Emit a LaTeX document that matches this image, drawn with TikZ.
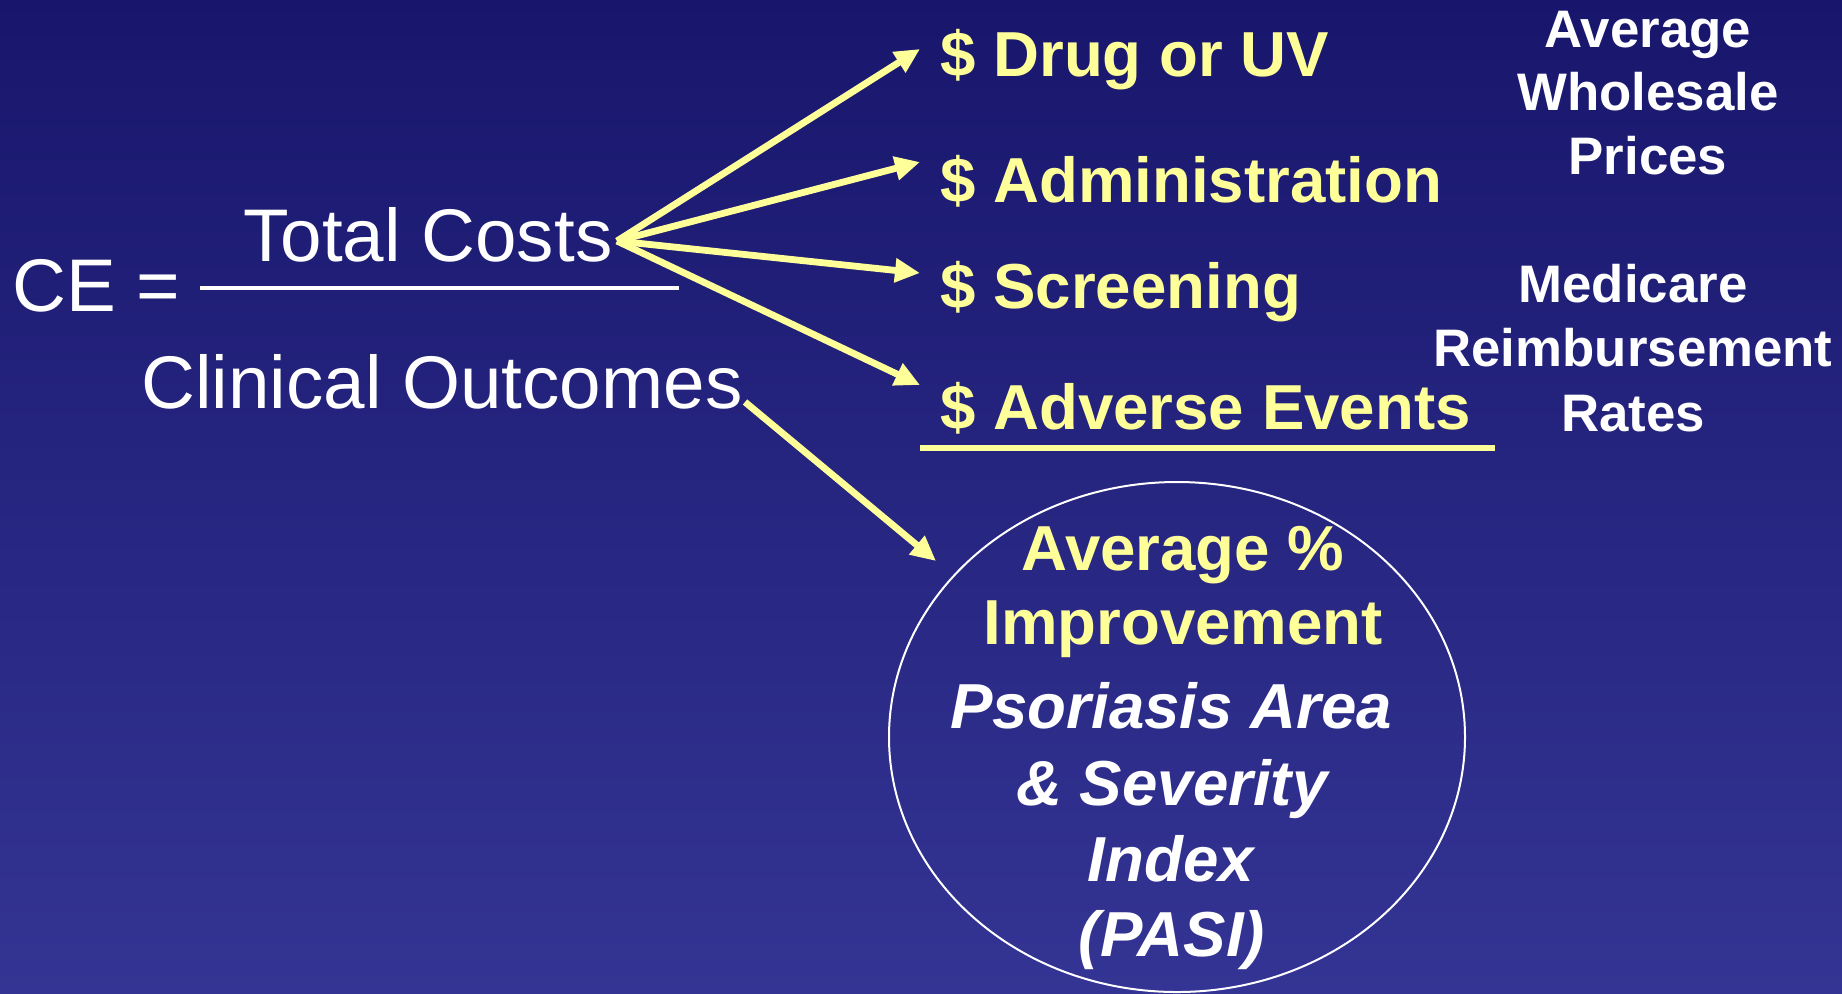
\documentclass[tikz,border=0pt]{standalone}
\usepackage{fontspec}
\setmainfont{Liberation Sans}
\usetikzlibrary{arrows.meta,shapes.geometric}
\definecolor{bgtop}{RGB}{24,22,108}
\definecolor{bgbot}{RGB}{52,52,148}
\definecolor{ylw}{RGB}{255,255,153}
\tikzset{
  bigtxt/.style={text=white,inner sep=0pt,anchor=base west,font=\fontsize{37.3}{40}\selectfont},
  costtxt/.style={text=ylw,inner sep=0pt,anchor=base west,font=\fontsize{31.8}{36}\selectfont\bfseries},
  sidetxt/.style={text=white,inner sep=0pt,anchor=base,font=\fontsize{26.4}{30}\selectfont\bfseries},
  ovaly/.style={text=ylw,inner sep=0pt,anchor=base,font=\fontsize{31.8}{36}\selectfont\bfseries},
  ovalw/.style={text=white,inner sep=0pt,anchor=base,font=\fontsize{31.8}{36}\selectfont\bfseries\itshape},
  arr/.style={draw=ylw,line width=3.4pt,-{Triangle[length=12.5pt,width=11.5pt]}}
}
\begin{document}
\begin{tikzpicture}[x=0.5pt,y=-0.5pt]
\useasboundingbox (0,0) rectangle (1842,993);
\shade[top color=bgtop,bottom color=bgbot] (0,0) rectangle (1842,993);

% left formula
\node[bigtxt] (ce) at (12,311) {CE =};
\node[bigtxt] (tc) at (243,261) {Total Costs};
\node[bigtxt] (co) at (141,408) {Clinical Outcomes};
\coordinate (fl) at (200,288);
\coordinate (fr) at (679,288);
\draw[white,line width=2pt] (fl) -- (fr);

% cost items
\node[costtxt] (drug) at (940,76) {\$ Drug or UV};
\node[costtxt] (adm) at (940,202) {\$ Administration};
\node[costtxt] (scr) at (940,308) {\$ Screening};
\node[costtxt] (adv) at (940,429) {\$ Adverse Events};
\coordinate (ul) at (920,448);
\coordinate (ur) at (1495,448);
\draw[ylw,line width=3pt] (ul) -- (ur);

% arrows
\coordinate (src) at (617,241);
\coordinate (src2) at (745,402);
\coordinate (t1) at (920,49);
\coordinate (t2) at (920,162);
\coordinate (t3) at (920,273);
\coordinate (t4) at (920,385);
\coordinate (t5) at (936,561);
\draw[arr] (src) -- (t1);
\draw[arr] (src) -- (t2);
\draw[arr] (src) -- (t3);
\draw[arr] (src) -- (t4);
\draw[arr] (src2) -- (t5);

% ellipse
\node[ellipse,draw=white,line width=1pt,minimum width=288pt,minimum height=255pt,inner sep=0pt] (pasi) at (1177,737) {};
\node[ovaly] (o1) at (1183,570) {Average \%};
\node[ovaly] (o2) at (1183,644) {Improvement};
\node[ovalw] (o3) at (1171,728) {Psoriasis Area};
\node[ovalw] (o4) at (1172,805) {\& Severity};
\node[ovalw] (o5) at (1171,881) {Index};
\node[ovalw] (o6) at (1172,956) {(PASI)};

% side notes
\node[sidetxt] (a1) at (1648,47) {Average};
\node[sidetxt] (a2) at (1648,110) {Wholesale};
\node[sidetxt] (a3) at (1648,174) {Prices};
\node[sidetxt] (m1) at (1633,302) {Medicare};
\node[sidetxt] (m2) at (1633,366) {Reimbursement};
\node[sidetxt] (m3) at (1633,431) {Rates};
\end{tikzpicture}
\end{document}
